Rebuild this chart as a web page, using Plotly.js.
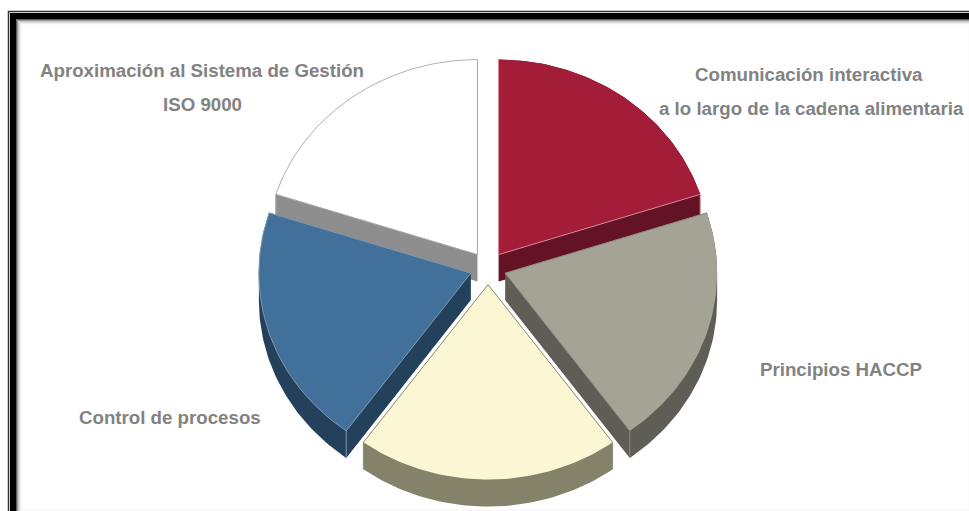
<!DOCTYPE html>
<html>
<head>
<meta charset="utf-8">
<script src="https://cdn.plot.ly/plotly-3.0.1.min.js"></script>
<style>
html, body { margin: 0; padding: 0; background: #fff; }
#chart { width: 969px; height: 511px; }
</style>
</head>
<body>
<div id="chart"></div>
<script>
// Five equal modules, clockwise from twelve o'clock.
const sliceShares = [20, 20, 20, 20, 20];

// How far each slice is pulled out, as a fraction of the radius.
const slicePull = [0.085, 0.085, 0.085, 0.085, 0.085];

// Face, side wall, radial-edge and rim-edge colours per slice.
const faceColors = ["#a31c38", "#a5a396", "#fbf6d3", "#41719a", "#ffffff"];
const wallColors = ["#641326", "#5f5d55", "#85826a", "#24415c", "#8f8e8e"];
const edgeColors = ["#d98a98", "#8d8b80", "#8f8d78", "#7f99ae", "#aaaaaa"];
const rimColors = [null, null, null, "#7f99ae", "#b5b5b5"];

// Painting order: back slices first, front slice last.
const paintOrder = [0, 4, 1, 3, 2];

// Text placed around the pie: [text, centre x px, centre y px].
const labelLines = [
  ["Aproximación al Sistema de Gestión", 202, 70],
  ["ISO 9000", 202, 104],
  ["Comunicación interactiva", 809, 74],
  ["a lo largo de la cadena alimentaria", 811, 108],
  ["Principios HACCP", 841, 369],
  ["Control de procesos", 170, 417]
];

const W = 969, H = 511;
const centerX = 488, centerY = 268;      // pie centre in pixels
const radiusX = 212, radiusY = 195;      // tilted pie: pixels per unit on each axis
const depth = 27 / radiusY;              // extrusion height in y units

// Point on the rim at a clockwise angle from the top (y axis points up).
const rim = (t, r = 1) => [r * Math.sin(t), r * Math.cos(t)];

function convexHull(points) {
  const pts = points.slice().sort((a, b) => a[0] - b[0] || a[1] - b[1]);
  const cross = (o, a, b) => (a[0] - o[0]) * (b[1] - o[1]) - (a[1] - o[1]) * (b[0] - o[0]);
  const half = list => {
    const out = [];
    for (const p of list) {
      while (out.length > 1 && cross(out[out.length - 2], out[out.length - 1], p) <= 0) out.pop();
      out.push(p);
    }
    out.pop();
    return out;
  };
  return half(pts).concat(half(pts.slice().reverse()));
}

const closed = pts => ({
  x: pts.concat([pts[0]]).map(p => p[0]),
  y: pts.concat([pts[0]]).map(p => p[1])
});

function polygonTrace(pts, fill) {
  return Object.assign(closed(pts), {
    type: "scatter", mode: "lines", fill: "toself", fillcolor: fill,
    line: { width: 0, color: fill }, hoverinfo: "skip", showlegend: false
  });
}

function edgeTrace(pts, color, width) {
  return {
    x: pts.map(p => p[0]), y: pts.map(p => p[1]),
    type: "scatter", mode: "lines", line: { color: color, width: width },
    hoverinfo: "skip", showlegend: false
  };
}

// Turn shares into angular spans, then each span into an extruded wedge.
const total = sliceShares.reduce((a, b) => a + b, 0);
let running = 0;
const wedges = sliceShares.map((share, i) => {
  const t0 = running / total * 2 * Math.PI;
  running += share;
  const t1 = running / total * 2 * Math.PI;
  const mid = (t0 + t1) / 2;
  const apex = rim(mid, slicePull[i]);
  const arc = [];
  for (let k = 0; k <= 60; k++) {
    const p = rim(t0 + (t1 - t0) * k / 60);
    arc.push([apex[0] + p[0], apex[1] + p[1]]);
  }
  return { apex, arc };
});

const traces = [];
paintOrder.forEach(i => {
  const { apex, arc } = wedges[i];
  const outline = [apex].concat(arc);
  const lowered = outline.map(p => [p[0], p[1] - depth]);
  const first = arc[0], last = arc[arc.length - 1];
  traces.push(polygonTrace(convexHull(outline.concat(lowered)), wallColors[i]));
  traces.push(edgeTrace([first, [first[0], first[1] - depth]], edgeColors[i], 1));
  traces.push(edgeTrace([last, [last[0], last[1] - depth]], edgeColors[i], 1));
  traces.push(polygonTrace(outline, faceColors[i]));
  traces.push(edgeTrace([first, apex, last], edgeColors[i], 1));
  if (rimColors[i]) traces.push(edgeTrace(arc, rimColors[i], 1));
});

// Picture frame: thin outer rule, heavy black band, soft inner shadow.
const px = v => v / W, py = v => 1 - v / H;
function frameRect(inset, color, width) {
  return {
    type: "rect", xref: "paper", yref: "paper", layer: "above",
    x0: px(15.5 - inset), x1: px(975 + inset),
    y0: py(516 + inset), y1: py(18.5 - inset),
    line: { color: color, width: width }, fillcolor: "rgba(0,0,0,0)"
  };
}
const frameShapes = [
  frameRect(-6, "#fafafa", 1.5),
  frameRect(-5, "#eeeeee", 1),
  frameRect(-4, "#dddddd", 1),
  frameRect(-3, "#c4c4c4", 1),
  frameRect(-2, "#9a9a9a", 1),
  frameRect(-1, "#5c5c5c", 1),
  frameRect(2.5, "#000000", 6),
  frameRect(7, "#333333", 1.5)
];

const annotations = labelLines.map(([text, x, y]) => ({
  text: text, xref: "paper", yref: "paper", x: px(x), y: py(y),
  xanchor: "center", yanchor: "middle", showarrow: false,
  font: { family: "Liberation Sans, Arial, sans-serif", size: 18.7, color: "#828282", weight: 700 }
}));

const layout = {
  width: W, height: H,
  margin: { l: 0, r: 0, t: 0, b: 0 },
  paper_bgcolor: "#ffffff", plot_bgcolor: "#ffffff",
  showlegend: false,
  xaxis: { visible: false, fixedrange: true, range: [-centerX / radiusX, (W - centerX) / radiusX] },
  yaxis: { visible: false, fixedrange: true, range: [(centerY - H) / radiusY, centerY / radiusY] },
  shapes: frameShapes,
  annotations: annotations
};

Plotly.newPlot("chart", traces, layout, { displayModeBar: false, staticPlot: true });
</script>
</body>
</html>
